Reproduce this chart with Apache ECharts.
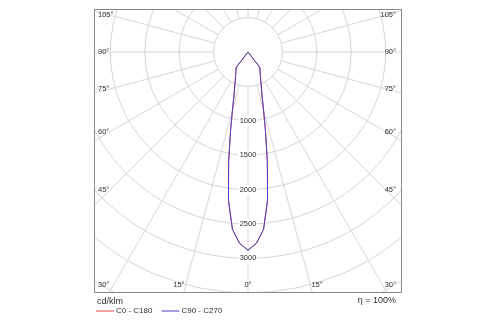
<!DOCTYPE html>
<html><head><meta charset="utf-8">
<script src="https://cdn.jsdelivr.net/npm/echarts@6/dist/echarts.min.js"></script>
<style>html,body{margin:0;padding:0;background:#fff}#c{width:500px;height:325px}</style>
</head><body><div id="c"></div>
<script>
// ---- data ----
const gammaDeg = [0,2.5,5,7.5,10,12.5,15,17.5,20,22.5,25,27.5,30,32.5,35,37.5,40,45,50,55,60,65,70,75,80,85,90];
const intensityC0   = [2880,2785,2590,2175,1620,1175,870,685,575,495,435,390,355,325,300,280,0,0,0,0,0,0,0,0,0,0,0];
const intensityC180 = [2880,2785,2590,2175,1620,1175,870,685,575,495,435,390,355,325,300,280,0,0,0,0,0,0,0,0,0,0,0];
const intensityC90  = [2880,2785,2590,2175,1620,1175,870,685,575,495,435,390,355,325,300,280,0,0,0,0,0,0,0,0,0,0,0];
const intensityC270 = [2880,2785,2590,2175,1620,1175,870,685,575,495,435,390,355,325,300,280,0,0,0,0,0,0,0,0,0,0,0];
const seriesNames = ['C0 - C180', 'C90 - C270'];
const radialTicks = [1000, 1500, 2000, 2500, 3000];
const radialTickLabels = ['1000', '1500', '2000', '2500', '3000'];
const radiusMax = 4500, radiusStep = 500, spokeStart = 500;
const spokeAngles = [-180,-165,-150,-135,-120,-105,-90,-75,-60,-45,-30,-15,0,15,30,45,60,75,90,105,120,135,150,165];
const sideAngleTicks = [105, 90, 75, 60, 45, 30];
const sideAngleLabels = ['105°', '90°', '75°', '60°', '45°', '30°'];
const bottomAngleTicks = [15, 0];
const bottomAngleLabels = ['15°', '0°'];
const unitText = 'cd/klm';
const etaText = 'η = 100%';

// ---- layout ----
const CX = 248, CY = 52, SCALE = 0.0688;
const FR = {l: 94, t: 9, r: 402, b: 293};
const FONT = 'Liberation Sans, Arial, sans-serif';
const GRID = '#d6d6d6';
const TXT = '#2e2e2e';

function plane(left, right) {
  const d = [];
  for (let i = gammaDeg.length - 1; i >= 0; i--) d.push([left[i], -gammaDeg[i]]);
  for (let i = 1; i < gammaDeg.length; i++) d.push([right[i], gammaDeg[i]]);
  return d;
}

const chart = echarts.init(document.getElementById('c'), null, {renderer: 'canvas'});

const graphics = [
  {type:'rect', shape:{x:0,y:0,width:500,height:FR.t}, style:{fill:'#fff'}, z:50, silent:true},
  {type:'rect', shape:{x:0,y:FR.b,width:500,height:325-FR.b}, style:{fill:'#fff'}, z:50, silent:true},
  {type:'rect', shape:{x:0,y:0,width:FR.l,height:325}, style:{fill:'#fff'}, z:50, silent:true},
  {type:'rect', shape:{x:FR.r,y:0,width:500-FR.r,height:325}, style:{fill:'#fff'}, z:50, silent:true},
  {type:'rect', shape:{x:FR.l+0.5,y:FR.t+0.5,width:FR.r-FR.l-1,height:FR.b-FR.t-1}, style:{fill:'none', stroke:'#888', lineWidth:1}, z:51, silent:true},
  {type:'text', x:97, y:302, style:{text:unitText, font:'9px '+FONT, fill:TXT, align:'left', verticalAlign:'middle'}, z:52},
  {type:'text', x:396, y:301, style:{text:etaText, font:'9px '+FONT, fill:TXT, align:'right', verticalAlign:'middle'}, z:52}
];
// angle labels along the frame
const insetL = 110, bottomY = 285;
const AF = '7.5px ' + FONT;
sideAngleTicks.forEach((a, i) => {
  let y = CY + (CX - insetL) / Math.tan(a * Math.PI / 180);
  if (a === 90) y = CY;
  y = Math.min(y, bottomY);
  graphics.push({type:'text', x:98, y:y, style:{text:sideAngleLabels[i], font:AF, fill:TXT, align:'left', verticalAlign:'middle'}, z:45});
  graphics.push({type:'text', x:396, y:y, style:{text:sideAngleLabels[i], font:AF, fill:TXT, align:'right', verticalAlign:'middle'}, z:45});
});
bottomAngleTicks.forEach((a, i) => {
  const dx = (bottomY - CY) * Math.tan(a * Math.PI / 180);
  if (a === 0) {
    graphics.push({type:'text', x:CX, y:bottomY, style:{text:bottomAngleLabels[i], font:AF, fill:TXT, align:'center', verticalAlign:'middle'}, z:45});
  } else {
    graphics.push({type:'text', x:CX - dx - 1, y:bottomY, style:{text:bottomAngleLabels[i], font:AF, fill:TXT, align:'right', verticalAlign:'middle'}, z:45});
    graphics.push({type:'text', x:CX + dx + 1, y:bottomY, style:{text:bottomAngleLabels[i], font:AF, fill:TXT, align:'left', verticalAlign:'middle'}, z:45});
  }
});

chart.setOption({
  animation: false,
  backgroundColor: '#fff',
  polar: {center: [CX, CY], radius: radiusMax * SCALE},
  angleAxis: {type:'value', min:-180, max:180, startAngle:90, clockwise:false,
    axisLine:{show:false}, axisTick:{show:false}, axisLabel:{show:false}, splitLine:{show:false}},
  radiusAxis: {type:'value', min:0, max:radiusMax, interval:radiusStep,
    axisLine:{show:false}, axisTick:{show:false}, axisLabel:{show:false},
    splitLine:{show:true, lineStyle:{color:GRID, width:1}}},
  legend: {
    left: 96, top: 307, padding: 0, itemGap: 9, itemWidth: 18, itemHeight: 1, icon: 'rect', z: 60,
    textStyle: {fontSize: 8, fontFamily: FONT, color: TXT, padding:[0,0,0,-3]},
    data: seriesNames
  },
  graphic: graphics,
  series: [
    {type:'custom', coordinateSystem:'polar', silent:true, z:1,
      data: spokeAngles.map(a => [0, a]),
      renderItem: (params, api) => {
        const a = api.value(1);
        const p1 = api.coord([spokeStart, a]);
        const p2 = api.coord([radiusMax, a]);
        return {type:'line', shape:{x1:p1[0], y1:p1[1], x2:p2[0], y2:p2[1]}, style:{stroke:GRID, lineWidth:1}};
      }},
    {type:'custom', coordinateSystem:'polar', silent:true, z:3,
      data: radialTicks.map(r => [r, 0]),
      renderItem: (params, api) => {
        const p = api.coord([api.value(0), 0]);
        return {type:'text', x:p[0], y:p[1], style:{text:radialTickLabels[params.dataIndex], font:AF, fill:TXT,
          align:'center', verticalAlign:'middle', backgroundColor:'#fff', padding:[1,1]}};
      }},
    {name: seriesNames[0], type:'line', coordinateSystem:'polar', data: plane(intensityC180, intensityC0),
      symbol:'none', z:4, lineStyle:{color:'#e04848', width:1}, itemStyle:{color:'#e04848'}},
    {name: seriesNames[1], type:'line', coordinateSystem:'polar', data: plane(intensityC270, intensityC90),
      symbol:'none', z:5, lineStyle:{color:'#4a44c4', width:1}, itemStyle:{color:'#4a44c4'}}
  ]
});
</script></body></html>
